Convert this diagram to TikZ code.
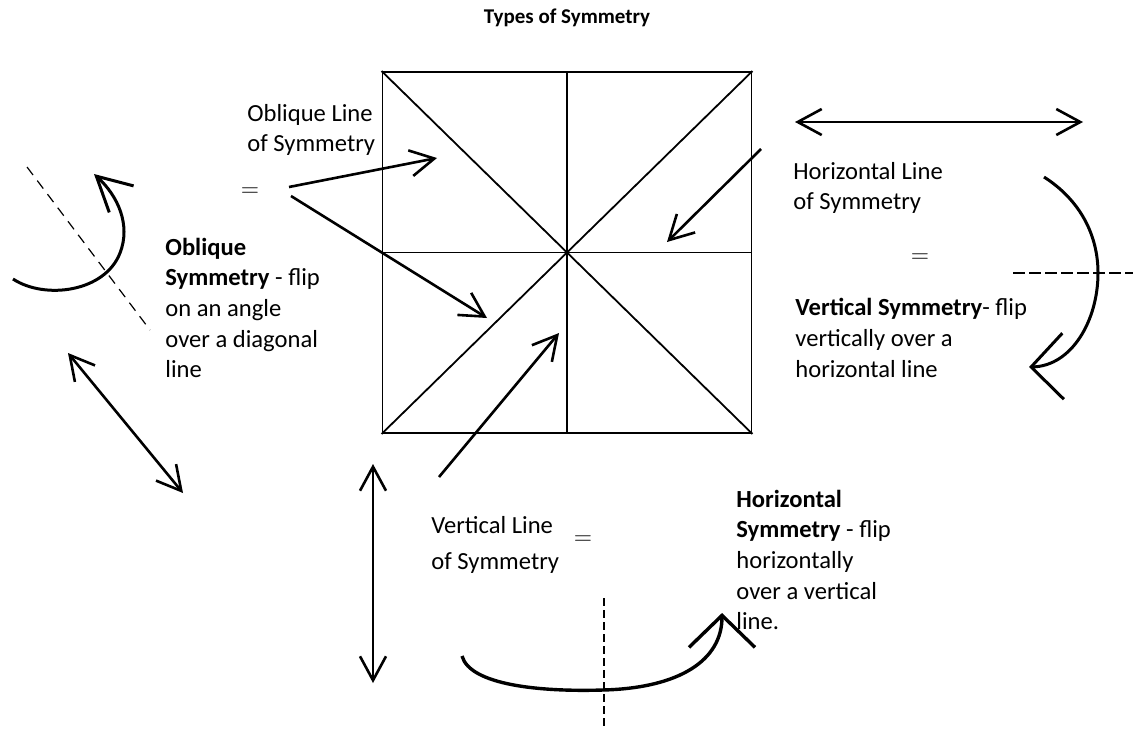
\documentclass[tikz,border=0pt]{standalone}
\usepackage{fontspec}
\setmainfont{Carlito}
\usetikzlibrary{arrows.meta}

\begin{document}
\begin{tikzpicture}[
    x=0.5pt, y=-0.5pt,
    >={Straight Barb[length=12pt,width=13pt]},
    txt/.style={align=left, anchor=west, inner sep=0pt,
                font=\fontsize{12.3}{15.3}\selectfont},
    eqsign/.style={inner sep=0pt, font=\fontsize{12.3}{15.3}\selectfont},
    sqline/.style={line width=0.9pt},
    ptr/.style={->, line width=1.3pt},
    dbl/.style={<->, line width=1.3pt},
    fliparr/.style={line width=1.5pt,
                    -{Straight Barb[length=16pt,width=33pt]}},
    diagaxis/.style={line width=0.6pt, dash pattern=on 5pt off 3.5pt},
    horaxis/.style={line width=1pt, dash pattern=on 6pt off 2pt},
    veraxis/.style={line width=1.3pt, dash pattern=on 4pt off 2pt}
]
\useasboundingbox (0,0) rectangle (1133,729);

\node[font=\fontsize{10.5}{13}\selectfont\bfseries] (title) at (567,18) {Types of Symmetry};

% ---- the square with its four lines of symmetry ----
\node[draw, sqline, minimum width=184.5pt, minimum height=180.5pt,
      inner sep=0pt] (sq) at (567,252.5) {};
\foreach \s/\t in {north west/south east, north east/south west,
                   north/south, west/east}{%
  \draw[sqline] (sq.\s) -- (sq.\t);
}

% ---- texts ----
\node[txt] (oblLine) at (247,130) {Oblique Line\\of Symmetry};
\node[eqsign] (oblEq) at (250,192) {$=$};
\node[txt] (oblSym) at (165,308)
     {\textbf{Oblique}\\\textbf{Symmetry} - flip\\on an angle\\over a diagonal\\line};

\node[txt] (horLine) at (793,188) {Horizontal Line\\of Symmetry};
\node[eqsign] (horEq) at (920,258) {$=$};
\node[txt] (vertSym) at (795,338)
     {\textbf{Vertical Symmetry}- flip\\vertically over a\\horizontal line};

\node[txt] (verLine) at (431,545) {Vertical Line\\[3pt]of Symmetry};
\node[eqsign] (verEq) at (583,540) {$=$};
\node[txt] (horSym) at (736,560)
     {\textbf{Horizontal}\\\textbf{Symmetry} - flip\\horizontally\\over a vertical\\line.};

% ---- pointers into the square ----
\coordinate (o1s) at (289,187);  \coordinate (o1e) at (437,158);
\coordinate (o2s) at (291,196);  \coordinate (o2e) at (487,318);
\coordinate (v1s) at (439,477);  \coordinate (v1e) at (559,333);
\coordinate (h1s) at (761,149);  \coordinate (h1e) at (667,242);
\draw[ptr] (o1s) -- (o1e);
\draw[ptr] (o2s) -- (o2e);
\draw[ptr] (v1s) -- (v1e);
\draw[ptr] (h1s) -- (h1e);

% ---- double arrows ----
\coordinate (hl) at (795,122);  \coordinate (hr) at (1083,122);
\coordinate (dt) at (68,353);   \coordinate (db) at (183,493);
\coordinate (vt) at (373,464);  \coordinate (vb) at (373,683);
\draw[dbl] (hl) -- (hr);
\draw[dbl] (dt) -- (db);
\draw[dbl] (vt) -- (vb);

% ---- mirror lines ----
\coordinate (ma) at (27,167);   \coordinate (mb) at (150,330);
\coordinate (mc) at (1013,273); \coordinate (md) at (1133,273);
\coordinate (me) at (604,598);  \coordinate (mf) at (604,729);
\draw[diagaxis] (ma) -- (mb);
\draw[horaxis] (mc) -- (md);
\draw[veraxis] (me) -- (mf);

% ---- flip arrows ----
\coordinate (lfS) at (13,279);   \coordinate (lfM) at (120,253);  \coordinate (lfE) at (94,174);
\coordinate (rtS) at (1044,177); \coordinate (rtM) at (1098,273); \coordinate (rtE) at (1029,367);
\coordinate (btS) at (462,656);  \coordinate (btM) at (603,690);  \coordinate (btE) at (722,613);
\draw[fliparr, -{Straight Barb[length=17pt,width=18pt]}]
  (lfS) .. controls (45,300) and (105,292) .. (lfM)
        .. controls (131,225) and (118,196) .. (lfE);
\draw[fliparr]
  (rtS) .. controls (1080,200) and (1098,235) .. (rtM)
        .. controls (1098,320) and (1072,366) .. (rtE);
\draw[fliparr, line width=1.7pt]
  (btS) .. controls (470,685) and (540,692) .. (btM)
        .. controls (680,688) and (722,660) .. (btE);
\end{tikzpicture}
\end{document}
